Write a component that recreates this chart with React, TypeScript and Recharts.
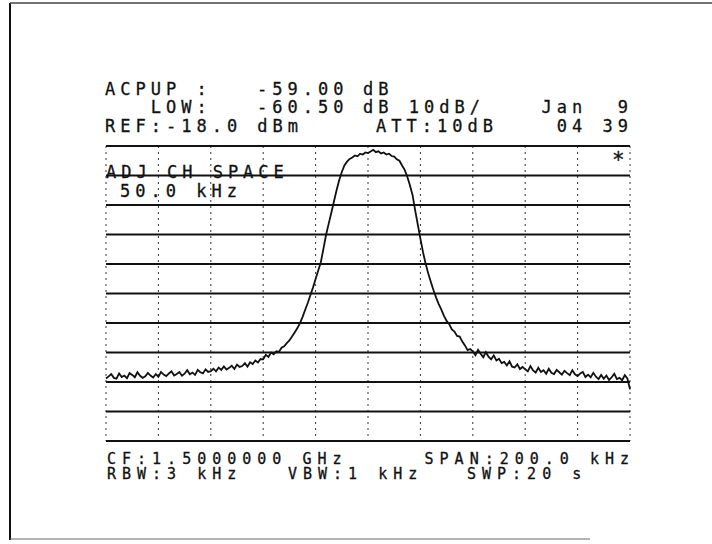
import { LineChart, Line, XAxis, YAxis, CartesianGrid } from "recharts";

// sweep points, kHz offset from CF (SPAN 200 kHz)
const FREQ_KHZ = Array.from({ length: 201 }, (_, i) => i - 100);

// trace level in dBm (REF -18 dBm, 10 dB/div)
const LEVEL_DBM = [
  -96.8, -96.1, -95.3, -96.6, -96.9, -95.1, -96.3, -95.8, -96.7, -95.0,
  -95.6, -96.4, -94.7, -95.9, -96.6, -96.1, -94.9, -95.8, -96.5, -95.3,
  -96.2, -94.6, -95.5, -96.0, -95.1, -94.4, -95.8, -95.3, -94.6, -95.9,
  -95.2, -94.0, -95.4, -94.8, -95.6, -93.9, -94.7, -95.1, -93.7, -94.6,
  -94.3, -93.5, -94.4, -93.1, -93.9, -92.7, -93.8, -93.2, -92.5, -93.6,
  -92.1, -92.9, -92.6, -91.6, -92.8, -91.3, -91.9, -90.7, -91.4, -90.2,
  -90.3, -88.8, -89.5, -88.0, -88.6, -87.6, -87.8, -86.4, -85.9, -84.8,
  -83.9, -82.6, -81.2, -79.8, -78.1, -76.0, -73.6, -71.2, -68.6, -66.0,
  -63.1, -60.2, -57.4, -52.8, -48.1, -44.3, -40.6, -36.8, -33.0, -29.6,
  -26.8, -24.6, -23.3, -22.4, -21.9, -21.2, -21.5, -20.6, -20.9, -20.2,
  -20.4, -19.9, -19.3, -20.1, -19.8, -20.5, -20.2, -20.9, -20.6, -21.4,
  -21.6, -22.5, -23.0, -24.6, -26.1, -28.4, -31.3, -34.6, -39.8, -44.6,
  -49.4, -54.0, -57.9, -61.2, -64.1, -66.9, -69.4, -71.6, -73.5, -75.6,
  -77.3, -78.4, -80.2, -80.9, -82.4, -82.6, -84.3, -85.6, -87.2, -86.8,
  -87.6, -88.9, -87.1, -88.4, -89.6, -87.9, -89.4, -90.3, -89.0, -90.7,
  -90.1, -91.6, -91.2, -92.4, -91.0, -92.8, -93.1, -92.0, -93.6, -92.9,
  -93.7, -94.4, -92.6, -94.1, -94.8, -93.2, -94.6, -94.0, -95.2, -93.5,
  -94.9, -95.3, -93.9, -94.7, -95.5, -94.2, -95.0, -95.7, -94.0, -95.4,
  -96.0, -95.1, -94.6, -96.3, -95.5, -96.4, -94.9, -96.2, -97.0, -95.6,
  -96.9, -95.8, -97.3, -96.4, -95.2, -97.0, -96.6, -97.4, -95.7, -96.8,
  -100.5,
];

const X_TICKS = [-100, -80, -60, -40, -20, 0, 20, 40, 60, 80, 100];
const Y_TICKS = [-118, -108, -98, -88, -78, -68, -58, -48, -38, -28, -18];

const ACP_LABELS = ["ACPUP :", "   LOW:"];
const ACP_VALUES = ["-59.00", "-60.50"];
const ACP_UNITS = ["dB", "dB 10dB/"];
const REF_TEXT = "REF:-18.0 dBm";
const ATT_TEXT = "ATT:10dB";
const DATE_TEXT = ["Jan  9", "04 39"];
const ADJ_TEXT = ["ADJ CH SPACE", "50.0 kHz"];
const CF_TEXT = "CF:1.5000000 GHz";
const SPAN_TEXT = "SPAN:200.0 kHz";
const RBW_TEXT = "RBW:3 kHz";
const VBW_TEXT = "VBW:1 kHz";
const SWP_TEXT = "SWP:20 s";

const data = FREQ_KHZ.map((f, i) => ({ f, level: LEVEL_DBM[i] }));

const font = {
  fontFamily: "'DejaVu Sans Mono', monospace",
  fontSize: 17,
  letterSpacing: 5,
  fill: "#111",
  stroke: "#111",
  strokeWidth: 0.3,
  style: { whiteSpace: "pre" as const },
};

// plotter footer is a touch smaller, same pitch
const small = { ...font, fontSize: 15, letterSpacing: 6 };

export default function App() {
  return (
    <div style={{ position: "absolute", left: 0, top: 0, width: 712, height: 544, background: "#fff" }}>
      <LineChart
        width={712}
        height={544}
        data={data}
        margin={{ top: 146, right: 82, bottom: 103, left: 106 }}
      >
        <XAxis dataKey="f" type="number" domain={[-100, 100]} ticks={X_TICKS} hide />
        <YAxis type="number" domain={[-118, -18]} ticks={Y_TICKS} hide />
        <CartesianGrid horizontal={false} stroke="#333" strokeDasharray="2 4" />
        <CartesianGrid vertical={false} stroke="#111" strokeWidth={2} />
        <Line
          type="linear"
          dataKey="level"
          stroke="#111"
          strokeWidth={1.8}
          dot={false}
          isAnimationActive={false}
        />
      </LineChart>

      <svg width={712} height={544} style={{ position: "absolute", left: 0, top: 0, pointerEvents: "none" }}>
        {/* paper edge */}
        <line x1={10} y1={3} x2={10} y2={540} stroke="#111" strokeWidth={2} />
        <line x1={10} y1={3} x2={712} y2={3} stroke="#444" strokeWidth={1.5} />
        <line x1={10} y1={539} x2={590} y2={539} stroke="#666" strokeWidth={1} />

        <text x={105} y={95} {...font}>{ACP_LABELS[0]}</text>
        <text x={105} y={113} {...font}>{ACP_LABELS[1]}</text>
        <text x={257} y={95} {...font}>{ACP_VALUES[0]}</text>
        <text x={257} y={113} {...font}>{ACP_VALUES[1]}</text>
        <text x={363} y={95} {...font}>{ACP_UNITS[0]}</text>
        <text x={363} y={113} {...font}>{ACP_UNITS[1]}</text>
        <text x={633} y={113} {...font} textAnchor="end">{DATE_TEXT[0]}</text>
        <text x={105} y={132} {...font}>{REF_TEXT}</text>
        <text x={376} y={132} {...font}>{ATT_TEXT}</text>
        <text x={633} y={132} {...font} textAnchor="end">{DATE_TEXT[1]}</text>
        <text x={612} y={167} {...font} fontSize={21} letterSpacing={0}>*</text>

        <text x={106} y={178} {...font}>{ADJ_TEXT[0]}</text>
        <text x={120} y={197} {...font}>{ADJ_TEXT[1]}</text>

        <text x={107} y={464} {...small}>{CF_TEXT}</text>
        <text x={635} y={464} {...small} textAnchor="end">{SPAN_TEXT}</text>
        <text x={107} y={479} {...small}>{RBW_TEXT}</text>
        <text x={288} y={479} {...small}>{VBW_TEXT}</text>
        <text x={467} y={479} {...small}>{SWP_TEXT}</text>
      </svg>
    </div>
  );
}
